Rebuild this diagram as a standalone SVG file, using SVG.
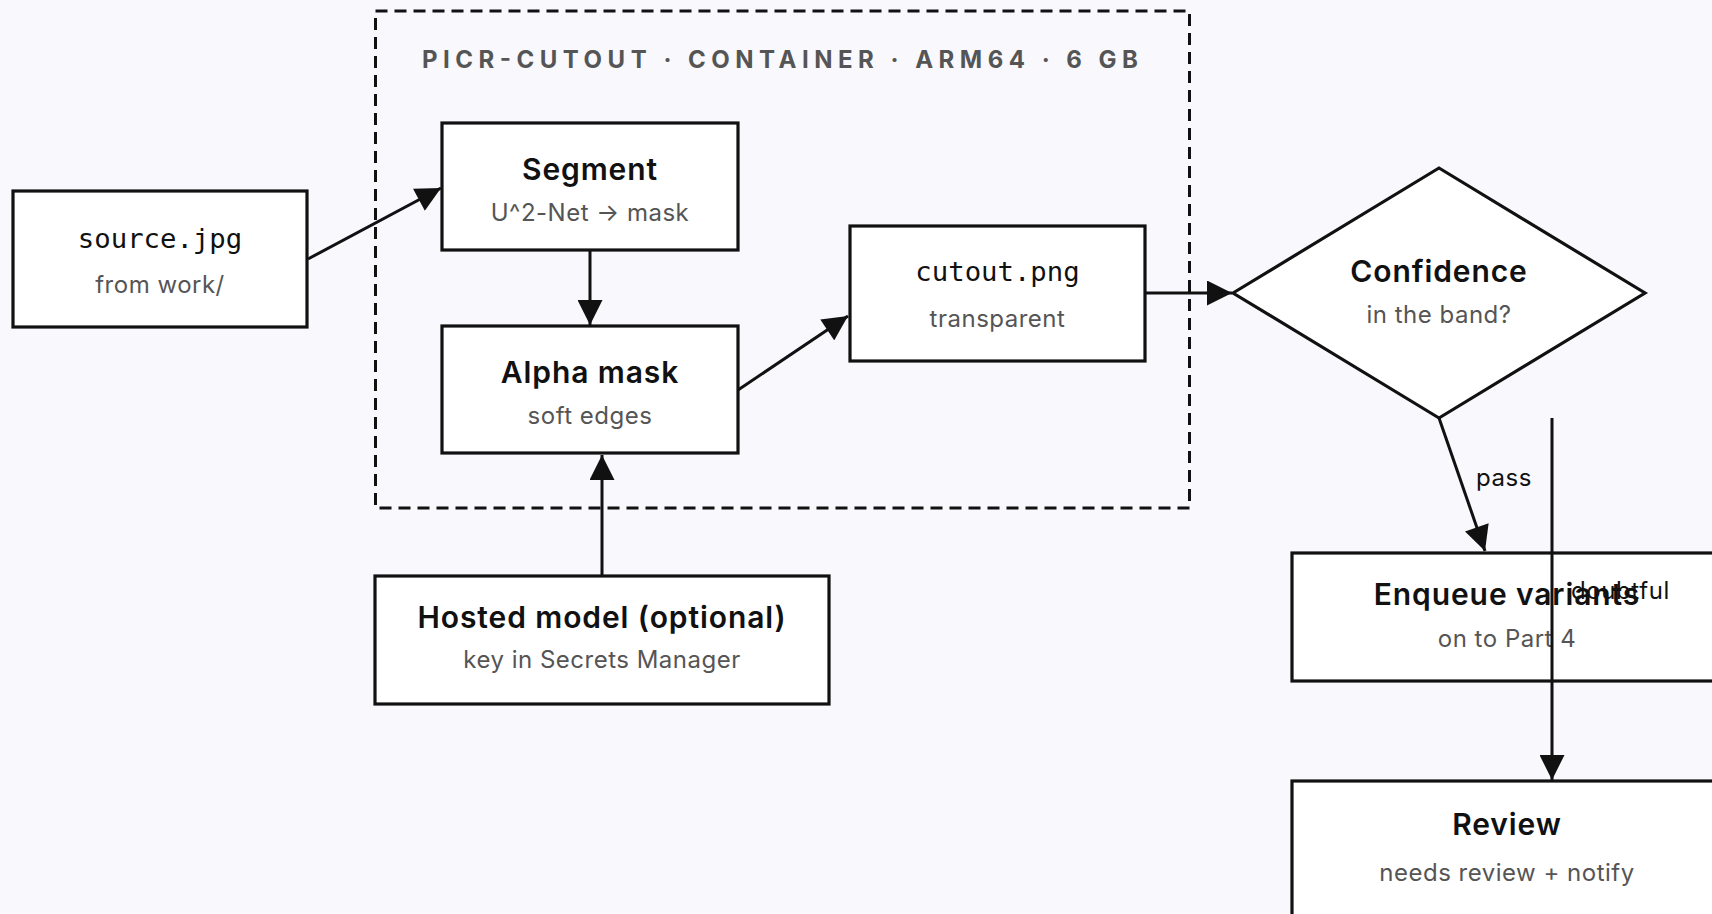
<svg xmlns="http://www.w3.org/2000/svg" width="1712" height="914" viewBox="0 0 1712 914">
  <defs>
    <marker id="arrow" viewBox="0 0 10 10" refX="10" refY="5" markerWidth="26" markerHeight="25" markerUnits="userSpaceOnUse" orient="auto">
      <path d="M0,0 L10,5 L0,10 z" fill="#111"/>
    </marker>
    <style>
      .box { fill: #fff; stroke: #111; stroke-width: 3.2; }
      .title { font-family: Inter, "Liberation Sans", sans-serif; font-weight: 600; font-size: 30px; letter-spacing: 0.9px; fill: #111; text-anchor: middle; }
      .mono { font-family: "DejaVu Sans Mono", "Liberation Mono", monospace; font-weight: 400; font-size: 27.3px; fill: #111; text-anchor: middle; }
      .sub { font-family: Inter, "Liberation Sans", sans-serif; font-size: 24px; letter-spacing: 0.5px; fill: #555; text-anchor: middle; }
      .edge { fill: none; stroke: #111; stroke-width: 3; marker-end: url(#arrow); }
      .elabel { font-family: Inter, "Liberation Sans", sans-serif; font-size: 24px; letter-spacing: 0.6px; fill: #111; }
      .cluster { fill: none; stroke: #111; stroke-width: 3; stroke-dasharray: 12 7; }
      .clabel { font-family: Inter, "Liberation Sans", sans-serif; font-weight: 700; font-size: 24px; fill: #555; }
    </style>
  </defs>

  <rect x="0" y="0" width="1712" height="914" fill="#f8f8fd"/>

  <!-- container boundary -->
  <g id="container">
    <rect class="cluster" x="375.5" y="11" width="814" height="497"/>
    <text class="clabel" x="422" y="68" textLength="716" lengthAdjust="spacing">PICR-CUTOUT · CONTAINER · ARM64 · 6 GB</text>
  </g>

  <!-- connectors -->
  <g id="connectors">
    <line class="edge" x1="308" y1="259" x2="441" y2="188"/>
    <line class="edge" x1="590" y1="250" x2="590" y2="325"/>
    <line class="edge" x1="738" y1="390" x2="848" y2="316"/>
    <line class="edge" x1="602" y1="576" x2="602" y2="455"/>
    <line class="edge" x1="1145" y1="293" x2="1232" y2="293"/>
    <line class="edge" x1="1439" y1="418" x2="1485" y2="551"/>
    <text class="elabel" x="1476" y="486">pass</text>
  </g>

  <g id="source">
    <rect class="box" x="13" y="191" width="294" height="136"/>
    <text class="mono" x="160" y="248">source.jpg</text>
    <text class="sub" x="160" y="293">from work/</text>
  </g>

  <g id="segment">
    <rect class="box" x="442" y="123" width="296" height="127"/>
    <text class="title" x="590" y="180">Segment</text>
    <text class="sub" x="590" y="221">U^2-Net → mask</text>
  </g>

  <g id="alpha">
    <rect class="box" x="442" y="326" width="296" height="127"/>
    <text class="title" x="590" y="383">Alpha mask</text>
    <text class="sub" x="590" y="424">soft edges</text>
  </g>

  <g id="cutout">
    <rect class="box" x="850" y="226" width="295" height="135"/>
    <text class="mono" x="997.5" y="281">cutout.png</text>
    <text class="sub" x="997.5" y="327">transparent</text>
  </g>

  <g id="confidence">
    <polygon class="box" points="1233,293 1439,168 1645,293 1439,418"/>
    <text class="title" x="1439" y="282">Confidence</text>
    <text class="sub" x="1439" y="323">in the band?</text>
  </g>

  <g id="hosted">
    <rect class="box" x="375" y="576" width="454" height="128"/>
    <text class="title" x="602" y="628">Hosted model (optional)</text>
    <text class="sub" x="602" y="668">key in Secrets Manager</text>
  </g>

  <g id="enqueue">
    <rect class="box" x="1292" y="553" width="431" height="128"/>
    <text class="title" x="1507" y="605">Enqueue variants</text>
    <text class="sub" x="1507" y="647">on to Part 4</text>
  </g>

  <g id="review">
    <rect class="box" x="1292" y="781" width="431" height="160"/>
    <text class="title" x="1507" y="835">Review</text>
    <text class="sub" x="1507" y="881">needs review + notify</text>
  </g>

  <!-- the doubtful branch runs over the box it crosses -->
  <g id="doubtful-edge">
    <line class="edge" x1="1552" y1="418" x2="1552" y2="780"/>
    <text class="elabel" x="1571" y="599">doubtful</text>
  </g>
</svg>
